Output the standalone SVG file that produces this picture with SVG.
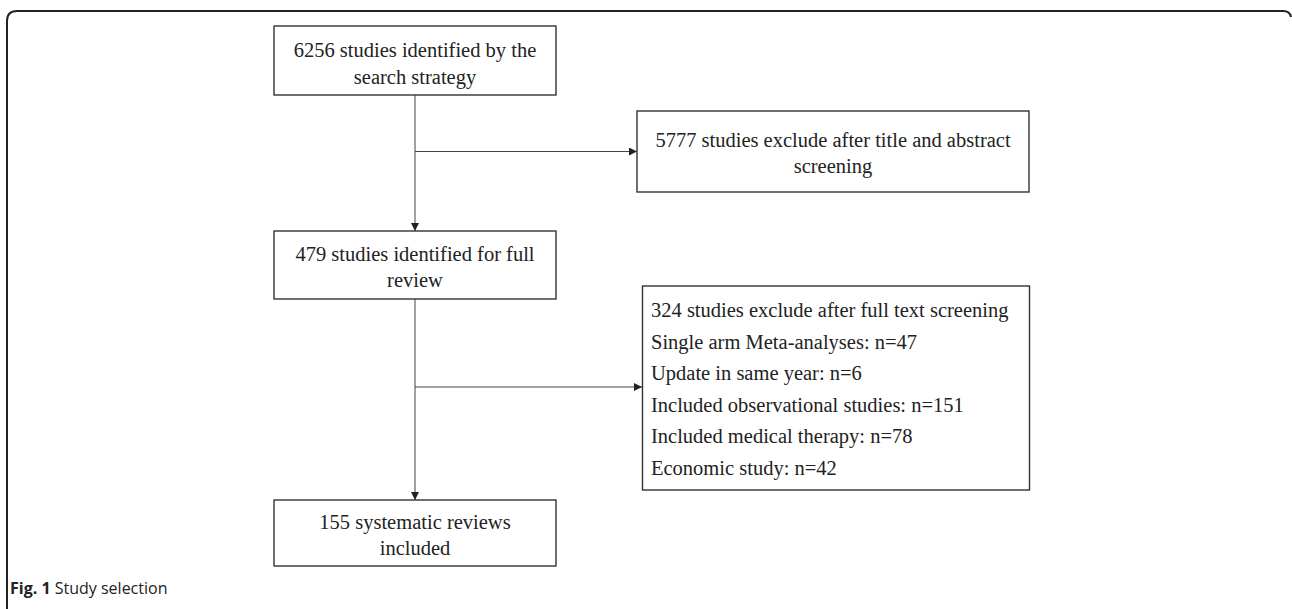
<svg xmlns="http://www.w3.org/2000/svg" width="1292" height="609" viewBox="0 0 1292 609">
<style>
.box{fill:#fff;stroke:#333;stroke-width:1.4}
.t{font-family:"Liberation Serif",serif;font-size:20.5px;fill:#222}
.c{text-anchor:middle}
.con{stroke:#444;stroke-width:1;fill:none}
.cap{font-family:"Open Sans","Liberation Sans",sans-serif;font-size:16px;fill:#222}
</style>
<defs>
<marker id="ah" markerWidth="9" markerHeight="8" refX="8" refY="4" orient="auto" markerUnits="userSpaceOnUse">
<path d="M0,0 L8,4 L0,8 Z" fill="#222"/>
</marker>
</defs>
<path d="M7,609 V21 Q7,11 17,11 H1283 Q1290,11 1291,17" fill="none" stroke="#222" stroke-width="2"/>
<g id="connectors">
<line class="con" x1="415" y1="95" x2="415" y2="231" marker-end="url(#ah)"/>
<line class="con" x1="415" y1="151.5" x2="637" y2="151.5" marker-end="url(#ah)"/>
<line class="con" x1="415" y1="299" x2="415" y2="500" marker-end="url(#ah)"/>
<line class="con" x1="415" y1="387" x2="642" y2="387" marker-end="url(#ah)"/>
</g>
<g id="n1">
<rect class="box" x="274" y="26" width="282" height="69"/>
<text class="t c" x="415" y="57">6256 studies identified by the</text>
<text class="t c" x="415" y="84">search strategy</text>
</g>
<g id="n2">
<rect class="box" x="637" y="111" width="392" height="81"/>
<text class="t c" x="833" y="147">5777 studies exclude after title and abstract</text>
<text class="t c" x="833" y="173">screening</text>
</g>
<g id="n3">
<rect class="box" x="274" y="231" width="282" height="68"/>
<text class="t c" x="415" y="261">479 studies identified for full</text>
<text class="t c" x="415" y="287">review</text>
</g>
<g id="n4">
<rect class="box" x="642.5" y="286" width="387" height="204"/>
<text class="t" x="651" y="317">324 studies exclude after full text screening</text>
<text class="t" x="651" y="348.5">Single arm Meta-analyses: n=47</text>
<text class="t" x="651" y="380">Update in same year: n=6</text>
<text class="t" x="651" y="411.5">Included observational studies: n=151</text>
<text class="t" x="651" y="443">Included medical therapy: n=78</text>
<text class="t" x="651" y="474.5">Economic study: n=42</text>
</g>
<g id="n5">
<rect class="box" x="274" y="500" width="282" height="66"/>
<text class="t c" x="415" y="529">155 systematic reviews</text>
<text class="t c" x="415" y="555">included</text>
</g>
<text class="cap" x="10" y="594"><tspan font-weight="bold">Fig. 1</tspan> Study selection</text>
</svg>
